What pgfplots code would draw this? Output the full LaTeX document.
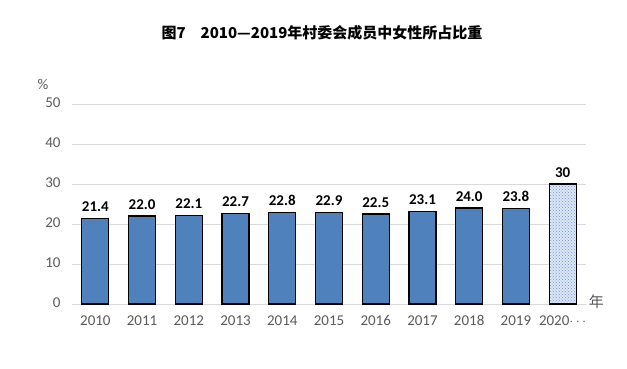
\documentclass[border=0pt]{standalone}
\usepackage{pgfplots}
\pgfplotsset{compat=1.18}
\usetikzlibrary{patterns}
\usepackage{fontspec}
\setmainfont{Carlito}
\newfontfamily\cjk{Noto Sans CJK SC}
\definecolor{barblue}{HTML}{4F81BD}
\definecolor{txtgray}{HTML}{595959}
\definecolor{gridgray}{HTML}{D9D9D9}
\definecolor{lightblue}{HTML}{DCE6F4}
\definecolor{dotblue}{HTML}{6F97CF}
\begin{document}
\begin{tikzpicture}
\path[use as bounding box] (0pt,0pt) rectangle (627pt,-368pt);
\node[font=\cjk\bfseries\fontsize{15}{17}\selectfont, anchor=center] at (322pt,-33pt) {图7\quad 2010—2019年村委会成员中女性所占比重};
\begin{axis}[
  at={(72pt,-304pt)}, anchor=south west,
  scale only axis, width=514pt, height=200pt,
  xmin=-0.5, xmax=10.5, ymin=0, ymax=50,
  ytick={0,10,20,30,40,50},
  xtick={0,...,10},
  xticklabels={2010,2011,2012,2013,2014,2015,2016,2017,2018,2019,2020$\cdots$},
  ymajorgrids, grid style={gridgray, line width=0.8pt},
  axis x line*=bottom, axis y line*=left,
  x axis line style={gridgray, line width=0.8pt},
  y axis line style={draw=none},
  tick style={draw=none},
  tick label style={font=\fontsize{15}{17}\selectfont, text=txtgray},
  typeset ticklabels with strut,
  /pgf/number format/assume math mode=true,
  yticklabel style={xshift=-8pt},
  xticklabel style={yshift=-2pt},
  ybar, bar width=27pt, bar shift=0pt,
  nodes near coords,
  every node near coord/.append style={font=\bfseries\fontsize{15}{17}\selectfont, text=black, yshift=3pt},
  clip=false,
]
\addplot[fill=barblue, draw=black, line width=1.1pt,
  nodes near coords={\pgfmathprintnumber[fixed,fixed zerofill,precision=1]{\pgfplotspointmeta}}]
  coordinates {(0,21.4) (1,22.0) (2,22.1) (3,22.7) (4,22.8) (5,22.9) (6,22.5) (7,23.1) (8,24.0) (9,23.8)};
\addplot[fill=lightblue, draw=black, line width=1.1pt,
  postaction={pattern=crosshatch dots, pattern color=dotblue},
  nodes near coords={\pgfmathprintnumber[fixed,precision=0]{\pgfplotspointmeta}}]
  coordinates {(10,30)};
\node[font=\fontsize{15}{17}\selectfont, text=txtgray, anchor=center] at (axis cs:-1.12,55) {\%};
\node[font=\cjk\fontsize{15}{17}\selectfont, text=txtgray, anchor=center] at (axis cs:10.72,0.5) {年};
\end{axis}
\end{tikzpicture}
\end{document}
